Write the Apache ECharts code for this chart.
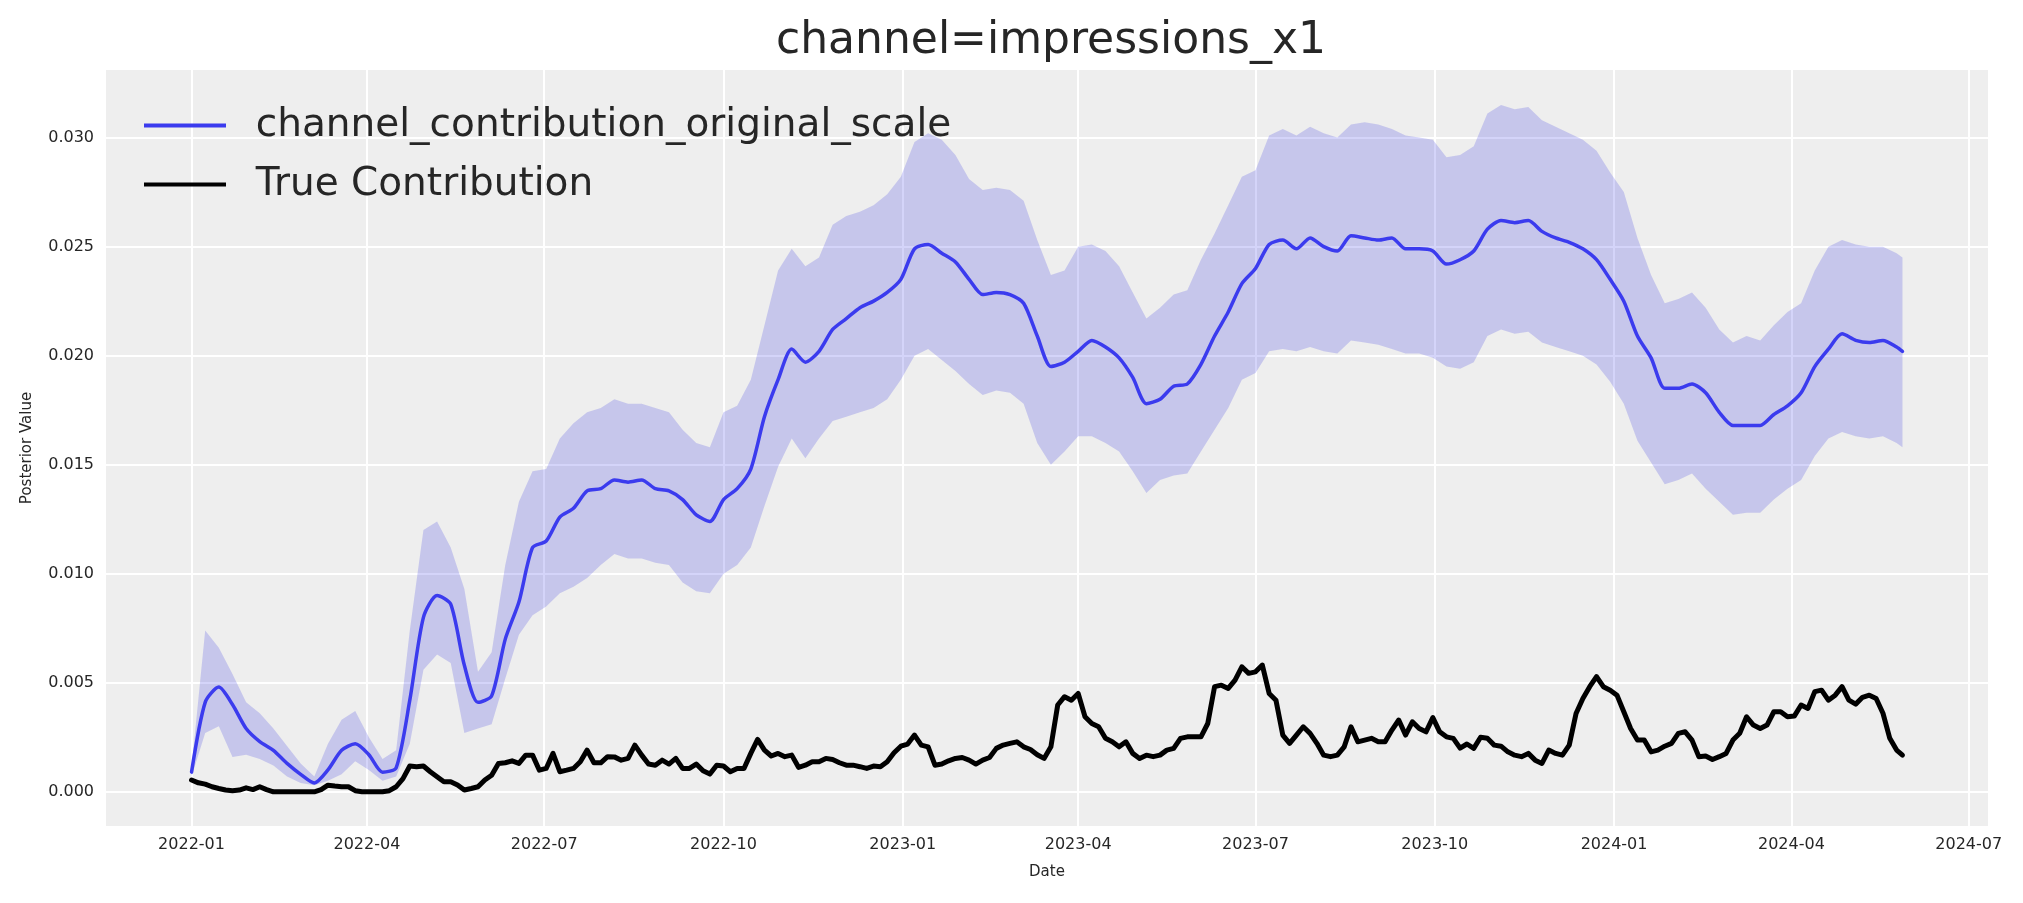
<!DOCTYPE html>
<html>
<head>
<meta charset="utf-8">
<title>channel=impressions_x1</title>
<script src="https://cdn.jsdelivr.net/npm/echarts@6/dist/echarts.min.js"></script>
<style>
html,body{margin:0;padding:0;background:#ffffff;}
#chart{width:2023px;height:903px;}
</style>
</head>
<body>
<div id="chart"></div>
<script>
var DAY=86400000;
var START=Date.UTC(2022,0,1);
var LAST_DAY=878; // last sample, 2024-05-28

// posterior mean and band, one reading per week from 2022-01-01 (+ last day)
var meanVals=[
0.0009,0.0041,0.0048,0.0040,0.0029,0.0023,0.0019,0.0013,0.0008,0.0004,
0.0010,0.0019,0.0022,0.0017,0.0009,0.0011,0.0042,0.0080,0.0090,0.0086,
0.0058,0.0041,0.0044,0.0070,0.0087,0.0112,0.0115,0.0126,0.0130,0.0138,
0.0139,0.0143,0.0142,0.0143,0.0139,0.0138,0.0134,0.0127,0.0124,0.0134,
0.0139,0.0148,0.0172,0.0189,0.0203,0.0197,0.0202,0.0212,0.0217,0.0222,
0.0225,0.0229,0.0235,0.0249,0.0251,0.0247,0.0243,0.0235,0.0228,0.0229,
0.0228,0.0224,0.0209,0.0195,0.0197,0.0202,0.0207,0.0204,0.0199,0.0190,
0.0178,0.0180,0.0186,0.0187,0.0196,0.0209,0.0220,0.0233,0.0240,0.0251,
0.0253,0.0249,0.0254,0.0250,0.0248,0.0255,0.0254,0.0253,0.0254,0.0249,
0.0249,0.0248,0.0242,0.0244,0.0248,0.0258,0.0262,0.0261,0.0262,0.0257,
0.0254,0.0252,0.0249,0.0244,0.0235,0.0225,0.0209,0.0199,0.0185,0.0185,
0.0187,0.0183,0.0174,0.0168,0.0168,0.0168,0.0173,0.0177,0.0183,0.0195,
0.0203,0.0210,0.0207,0.0206,0.0207,0.0204,0.0202
];
var upperVals=[
0.0011,0.0074,0.0066,0.0054,0.0041,0.0036,0.0029,0.0021,0.0013,0.0007,
0.0022,0.0033,0.0037,0.0025,0.0015,0.0019,0.0074,0.0120,0.0124,0.0112,
0.0093,0.0055,0.0064,0.0104,0.0133,0.0147,0.0148,0.0162,0.0169,0.0174,
0.0176,0.0180,0.0178,0.0178,0.0176,0.0174,0.0166,0.0160,0.0158,0.0174,
0.0177,0.0189,0.0214,0.0239,0.0249,0.0241,0.0245,0.0260,0.0264,0.0266,
0.0269,0.0274,0.0282,0.0298,0.0302,0.0299,0.0292,0.0281,0.0276,0.0277,
0.0276,0.0271,0.0253,0.0237,0.0239,0.0250,0.0251,0.0248,0.0241,0.0229,
0.0217,0.0222,0.0228,0.0230,0.0244,0.0256,0.0269,0.0282,0.0285,0.0301,
0.0304,0.0301,0.0305,0.0302,0.0300,0.0306,0.0307,0.0306,0.0304,0.0301,
0.0300,0.0299,0.0291,0.0292,0.0296,0.0311,0.0315,0.0313,0.0314,0.0308,
0.0305,0.0302,0.0299,0.0294,0.0284,0.0275,0.0254,0.0237,0.0224,0.0226,
0.0229,0.0222,0.0212,0.0206,0.0209,0.0207,0.0214,0.0220,0.0224,0.0239,
0.0250,0.0253,0.0251,0.0250,0.0250,0.0247,0.0245
];
var lowerVals=[
0.0007,0.0027,0.0030,0.0016,0.0017,0.0015,0.0012,0.0007,0.0004,0.0003,
0.0005,0.0008,0.0014,0.0010,0.0005,0.0007,0.0022,0.0056,0.0063,0.0059,
0.0027,0.0029,0.0031,0.0052,0.0072,0.0081,0.0085,0.0091,0.0094,0.0098,
0.0104,0.0109,0.0107,0.0107,0.0105,0.0104,0.0096,0.0092,0.0091,0.0100,
0.0104,0.0112,0.0131,0.0149,0.0162,0.0153,0.0162,0.0170,0.0172,0.0174,
0.0176,0.0180,0.0189,0.0200,0.0203,0.0198,0.0193,0.0187,0.0182,0.0184,
0.0183,0.0178,0.0160,0.0150,0.0156,0.0163,0.0163,0.0160,0.0156,0.0147,
0.0137,0.0143,0.0145,0.0146,0.0156,0.0166,0.0176,0.0189,0.0192,0.0202,
0.0203,0.0202,0.0204,0.0202,0.0201,0.0207,0.0206,0.0205,0.0203,0.0201,
0.0201,0.0199,0.0195,0.0194,0.0197,0.0209,0.0212,0.0210,0.0211,0.0206,
0.0204,0.0202,0.0200,0.0196,0.0188,0.0178,0.0161,0.0151,0.0141,0.0143,
0.0146,0.0139,0.0133,0.0127,0.0128,0.0128,0.0134,0.0139,0.0143,0.0154,
0.0162,0.0165,0.0163,0.0162,0.0163,0.0160,0.0158
];
// true contribution, one reading every half week (+ last day)
var trueVals=[
0.00054,0.00041,0.00035,0.00023,0.00015,0.00008,0.00005,0.00008,0.00018,0.00010,
0.00023,0.00010,0,0,0,0,0,0,0,0.00010,
0.00030,0.00026,0.00023,0.00023,0.00005,0,0,0,0,0.00005,
0.00023,0.00060,0.00118,0.00115,0.00118,0.00092,0.00069,0.00046,0.00046,0.00031,
0.00008,0.00015,0.00023,0.00054,0.00076,0.00130,0.00133,0.00142,0.00130,0.00168,
0.00168,0.00099,0.00107,0.00176,0.00092,0.00099,0.00107,0.00138,0.00191,0.00133,
0.00133,0.00161,0.00160,0.00145,0.00153,0.00214,0.00168,0.00127,0.00122,0.00145,
0.00127,0.00153,0.00107,0.00107,0.00127,0.00096,0.00081,0.00122,0.00118,0.00092,
0.00107,0.00107,0.00176,0.00240,0.00191,0.00164,0.00176,0.00161,0.00168,0.00112,
0.00122,0.00138,0.00138,0.00153,0.00148,0.00133,0.00122,0.00122,0.00115,0.00107,
0.00118,0.00115,0.00138,0.00179,0.00209,0.00219,0.00260,0.00214,0.00206,0.00122,
0.00127,0.00142,0.00153,0.00157,0.00145,0.00127,0.00145,0.00157,0.00199,0.00214,
0.00222,0.00229,0.00206,0.00194,0.00170,0.00153,0.00206,0.00398,0.00436,0.00420,
0.00451,0.00344,0.00313,0.00298,0.00245,0.00229,0.00206,0.00229,0.00176,0.00153,
0.00168,0.00161,0.00168,0.00191,0.00199,0.00245,0.00252,0.00252,0.00252,0.00313,
0.00482,0.00489,0.00474,0.00512,0.00573,0.00543,0.00550,0.00581,0.00451,0.00420,
0.00260,0.00222,0.00260,0.00298,0.00268,0.00222,0.00168,0.00161,0.00168,0.00206,
0.00298,0.00229,0.00237,0.00245,0.00229,0.00229,0.00283,0.00329,0.00260,0.00321,
0.00290,0.00275,0.00340,0.00275,0.00252,0.00245,0.00200,0.00219,0.00199,0.00250,
0.00245,0.00214,0.00209,0.00183,0.00168,0.00161,0.00176,0.00145,0.00130,0.00191,
0.00176,0.00168,0.00214,0.00359,0.00428,0.00482,0.00528,0.00482,0.00466,0.00443,
0.00367,0.00290,0.00237,0.00237,0.00183,0.00191,0.00209,0.00222,0.00268,0.00275,
0.00237,0.00161,0.00164,0.00148,0.00161,0.00176,0.00237,0.00268,0.00344,0.00306,
0.00290,0.00306,0.00367,0.00367,0.00344,0.00347,0.00398,0.00382,0.00459,0.00466,
0.00420,0.00443,0.00482,0.00420,0.00402,0.00433,0.00443,0.00428,0.00360,0.00245,
0.00191,0.00168
];

var weekDates=[];
for(var i=0;i<meanVals.length-1;i++){weekDates.push(START+i*7*DAY);}
weekDates.push(START+LAST_DAY*DAY);
var halfWeekDates=[];
for(var j=0;j<trueVals.length-1;j++){halfWeekDates.push(START+j*3.5*DAY);}
halfWeekDates.push(START+LAST_DAY*DAY);

function pairs(dates,vals){
	var out=[];
	for(var k=0;k<vals.length;k++){out.push([dates[k],vals[k]]);}
	return out;
}
var bandWidth=[];
for(var b=0;b<upperVals.length;b++){
	bandWidth.push([weekDates[b],+(upperVals[b]-lowerVals[b]).toFixed(5)]);
}

var FONT='DejaVu Sans';
var TXT='#262626';
var BLUE='#3b3bee';

var chart=echarts.init(document.getElementById('chart'),null,{renderer:'canvas'});
var option={
	animation:false,
	useUTC:true,
	backgroundColor:'#ffffff',
	title:{
		text:'channel=impressions_x1',
		left:771,
		top:15,
		textStyle:{fontFamily:FONT,fontSize:44,fontWeight:'normal',color:TXT}
	},
	legend:{
		data:[{name:'channel_contribution_original_scale',icon:'rect'},{name:'True Contribution',icon:'rect'}],
		orient:'vertical',
		left:139,
		top:101,
		itemWidth:82,
		itemHeight:4,
		itemGap:20,
		formatter:function(n){return '  '+n;},
		textStyle:{fontFamily:FONT,fontSize:39,color:TXT}
	},
	grid:{
		left:106,
		right:35,
		top:70,
		bottom:77,
		show:true,
		backgroundColor:'#eeeeee',
		borderWidth:0,
		containLabel:false,
		outerBoundsMode:'none'
	},
	xAxis:{
		type:'time',
		min:START-43.9*DAY,
		max:START+921.9*DAY,
		minInterval:93*DAY,
		maxInterval:93*DAY,
		name:'Date',
		nameLocation:'middle',
		nameGap:39,
		nameTextStyle:{fontFamily:FONT,fontSize:15,color:TXT},
		axisLine:{show:false},
		axisTick:{show:false},
		splitLine:{show:true,showMinLine:false,showMaxLine:false,lineStyle:{color:'#ffffff',width:2}},
		axisLabel:{
			fontFamily:FONT,fontSize:16,color:TXT,margin:11,
			showMinLabel:false,showMaxLabel:false,
			formatter:function(v){
				var d=new Date(v);
				if(d.getUTCDate()!==1||d.getUTCHours()!==0){return '';}
				var m=d.getUTCMonth()+1;
				return d.getUTCFullYear()+'-'+(m<10?'0'+m:m);
			}
		}
	},
	yAxis:{
		type:'value',
		min:-0.00157,
		max:0.0331,
		splitNumber:7,
		name:'Posterior Value',
		nameLocation:'middle',
		nameGap:71,
		nameTextStyle:{fontFamily:FONT,fontSize:15,color:TXT},
		axisLine:{show:false},
		axisTick:{show:false},
		splitLine:{show:true,showMinLine:false,showMaxLine:false,lineStyle:{color:'#ffffff',width:2}},
		axisLabel:{
			fontFamily:FONT,fontSize:16,color:TXT,margin:12,
			showMinLabel:false,showMaxLabel:false,
			formatter:function(v){return v.toFixed(3);}
		}
	},
	series:[
		{
			name:'hdi_low',
			type:'line',
			data:pairs(weekDates,lowerVals),
			stack:'hdi',
			symbol:'none',
			silent:true,
			lineStyle:{opacity:0},
			z:1
		},
		{
			name:'hdi_band',
			type:'line',
			data:bandWidth,
			stack:'hdi',
			symbol:'none',
			silent:true,
			lineStyle:{opacity:0},
			areaStyle:{color:'rgba(40,40,225,0.2)',opacity:1},
			z:1
		},
		{
			name:'channel_contribution_original_scale',
			type:'line',
			data:pairs(weekDates,meanVals),
			symbol:'none',
			smooth:0.25,
			color:BLUE,
			itemStyle:{color:BLUE},
			lineStyle:{color:BLUE,width:3.5,cap:'round',join:'round'},
			z:3
		},
		{
			name:'True Contribution',
			type:'line',
			data:pairs(halfWeekDates,trueVals),
			symbol:'none',
			color:'#000000',
			itemStyle:{color:'#000000'},
			lineStyle:{color:'#000000',width:5,cap:'round',join:'round'},
			z:4
		}
	]
};
chart.setOption(option);
</script>
</body>
</html>
